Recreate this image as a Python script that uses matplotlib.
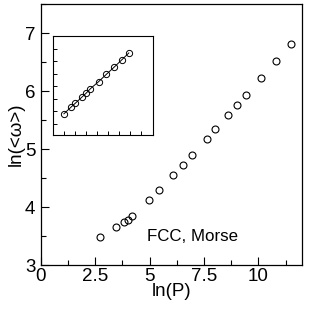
import matplotlib
matplotlib.use("Agg")
import matplotlib.pyplot as plt
from matplotlib.ticker import MultipleLocator, NullFormatter

plt.rcParams['font.family'] = ['Liberation Sans', 'DejaVu Sans']

# main data: ln(P) vs ln(<w>)
lnP = [2.72, 3.44, 3.83, 4.02, 4.17, 4.96, 5.45, 6.08, 6.53, 6.95,
       7.63, 8.02, 8.60, 9.01, 9.44, 10.12, 10.79, 11.50]
lnW = [3.49, 3.65, 3.75, 3.78, 3.84, 4.12, 4.30, 4.55, 4.73, 4.90,
       5.18, 5.34, 5.58, 5.76, 5.93, 6.23, 6.52, 6.81]

# inset data (no tick labels in the original, arbitrary units)
inset_x = [0.96, 1.64, 2.0, 2.59, 2.98, 3.37, 4.11, 4.82, 5.51, 6.2, 6.85]
inset_y = [1.81, 2.37, 2.66, 3.14, 3.46, 3.82, 4.38, 4.97, 5.53, 6.11, 6.67]

label_text = "FCC, Morse"

fig = plt.figure(figsize=(3.1, 3.13), dpi=100)
ax = fig.add_axes([0.132, 0.153, 0.842, 0.834])

ax.plot(lnP, lnW, 'o', mfc='none', mec='black', ms=5, mew=0.8)
ax.set_xlim(0, 12)
ax.set_ylim(3, 7.5)
ax.xaxis.set_minor_locator(MultipleLocator(1.25))
ax.yaxis.set_minor_locator(MultipleLocator(0.5))
ax.set_xticks([0, 2.5, 5, 7.5, 10])
ax.set_xticklabels(['0', '2.5', '5', '7.5', '10'])
ax.set_yticks([3, 4, 5, 6, 7])
ax.tick_params(which='both', direction='in', top=False, right=False, labelsize=13.5, width=0.8)
ax.tick_params(which='major', length=6)
ax.tick_params(which='minor', length=3.5)
ax.tick_params(axis='x', pad=2)
ax.tick_params(axis='y', pad=4)
for s in ax.spines.values():
    s.set_linewidth(0.9)
ax.set_xlabel('ln(P)', fontsize=13.5, labelpad=-1)
ax.set_ylabel('ln(<\u03c9>)', fontsize=13.5, labelpad=0)
ax.text(4.89, 3.49, label_text, fontsize=12.2, va='center', ha='left')

ins = fig.add_axes([0.172, 0.57, 0.32, 0.314])
ins.plot(inset_x, inset_y, '-o', color='black', lw=0.7, mfc='none', mec='black', ms=4.5, mew=0.7)
ins.set_xlim(0, 9)
ins.set_ylim(0.15, 8)
ins.set_xticks(range(1, 9))
ins.set_yticks(range(1, 8))
ins.xaxis.set_major_formatter(NullFormatter())
ins.yaxis.set_major_formatter(NullFormatter())
ins.tick_params(direction='in', length=3, width=0.7, top=False, right=False)
for s in ins.spines.values():
    s.set_linewidth(0.8)

fig.savefig('out.png', dpi=100)
